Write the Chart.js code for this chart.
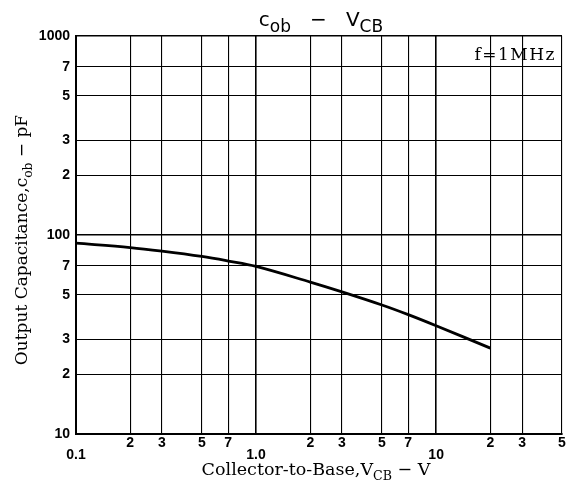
<!DOCTYPE html>
<html>
<head>
<meta charset="utf-8">
<script src="https://cdn.jsdelivr.net/npm/chart.js@4"></script>
<style>
  html, body { margin: 0; padding: 0; background: #fff; }
  #wrap { width: 576px; height: 489px; position: relative; }
</style>
</head>
<body>
<div id="wrap"><canvas id="myChart" width="576" height="489"></canvas></div>
<script>
// collector-base voltage (V) and output capacitance (pF)
const vcb = [0.1, 0.2, 0.3, 0.5, 0.7, 1.0, 2, 3, 5, 7, 10, 20];
const cob = [91, 86.5, 83, 78, 74, 69.5, 58, 51.8, 44.5, 39.8, 35, 27];

const xTicks = [0.1, 0.2, 0.3, 0.5, 0.7, 1, 2, 3, 5, 7, 10, 20, 30, 50];
const xTickLabels = ["0.1", "2", "3", "5", "7", "1.0", "2", "3", "5", "7", "10", "2", "3", "5"];
const yTicks = [10, 20, 30, 50, 70, 100, 200, 300, 500, 700, 1000];
const yTickLabels = ["10", "2", "3", "5", "7", "100", "2", "3", "5", "7", "1000"];
const decades = [0.1, 1, 10, 100, 1000];

const serif = "'DejaVu Serif', 'Liberation Serif', serif";
const sans = "'Liberation Sans', Arial, sans-serif";

// draws a run of text pieces, some of them as subscripts
function drawRich(ctx, parts, x, y, size, family, rotate, subScale) {
  ctx.save();
  ctx.translate(x, y);
  if (rotate) ctx.rotate(-Math.PI / 2);
  ctx.fillStyle = "#000";
  ctx.textBaseline = "alphabetic";
  const sub = subScale || 0.72;
  let total = 0;
  parts.forEach((p) => {
    ctx.font = (p.sub ? size * sub : size) + "px " + family;
    total += ctx.measureText(p.t).width;
  });
  let cx = -total / 2;
  parts.forEach((p) => {
    ctx.font = (p.sub ? size * sub : size) + "px " + family;
    ctx.fillText(p.t, cx, p.sub ? size * 0.28 : 0);
    cx += ctx.measureText(p.t).width;
  });
  ctx.restore();
}

const labelsPlugin = {
  id: "labels",
  afterDraw(chart) {
    const ctx = chart.ctx;
    // title
    drawRich(ctx, [
      { t: "c" }, { t: "ob", sub: true }, { t: "   −   " },
      { t: "V" }, { t: "CB", sub: true },
    ], 321, 26, 20, "'DejaVu Sans', sans-serif", false, 0.85);
    // axis titles
    drawRich(ctx, [
      { t: "Collector-to-Base,V" }, { t: "CB", sub: true }, { t: " − V" },
    ], 316, 475, 17.5, serif, false);
    drawRich(ctx, [
      { t: "Output Capacitance,c" }, { t: "ob", sub: true }, { t: " − pF" },
    ], 27, 240, 17, serif, true);
    // condition note
    ctx.save();
    ctx.font = "17px " + serif;
    ctx.letterSpacing = "1.5px";
    ctx.fillStyle = "#000";
    ctx.textAlign = "right";
    ctx.fillText("f=1MHz", 556, 60);
    ctx.restore();
  },
};

function gridWidth(ctx) {
  const v = ctx.tick && ctx.tick.value;
  return decades.some((d) => Math.abs(d - v) < 1e-9) ? 1.6 : 1.1;
}

new Chart(document.getElementById("myChart"), {
  type: "line",
  data: {
    datasets: [{
      data: vcb.map((v, i) => ({ x: v, y: cob[i] })),
      borderColor: "#000",
      borderWidth: 2.8,
      pointRadius: 0,
      tension: 0.35,
      fill: false,
    }],
  },
  options: {
    responsive: false,
    animation: false,
    devicePixelRatio: 1,
    layout: { padding: { top: 36, right: 14, left: 0, bottom: 0 } },
    plugins: { legend: { display: false }, tooltip: { enabled: false } },
    scales: {
      x: {
        type: "logarithmic",
        min: 0.1,
        max: 50,
        afterBuildTicks: (scale) => { scale.ticks = xTicks.map((v) => ({ value: v })); },
        afterFit: (scale) => { scale.height = 55; },
        border: { color: "#000", width: 2 },
        grid: { color: "#000", lineWidth: gridWidth, drawTicks: false },
        ticks: {
          autoSkip: false,
          maxRotation: 0,
          padding: 3,
          color: "#000",
          font: { family: sans, size: 14, weight: "bold", lineHeight: 0.85 },
          callback: (v, i) => {
            const lbl = xTickLabels[i];
            return lbl.indexOf(".") >= 0 || lbl === "10" ? ["", lbl] : lbl;
          },
        },
      },
      y: {
        type: "logarithmic",
        min: 10,
        max: 1000,
        afterBuildTicks: (scale) => { scale.ticks = yTicks.map((v) => ({ value: v })); },
        afterFit: (scale) => { scale.width = 76; },
        border: { color: "#000", width: 2 },
        grid: { color: "#000", lineWidth: gridWidth, drawTicks: false },
        ticks: {
          autoSkip: false,
          padding: 6,
          color: "#000",
          font: { family: sans, size: 14, weight: "bold" },
          callback: (v, i) => yTickLabels[i],
        },
      },
    },
  },
  plugins: [labelsPlugin],
});
</script>
</body>
</html>
